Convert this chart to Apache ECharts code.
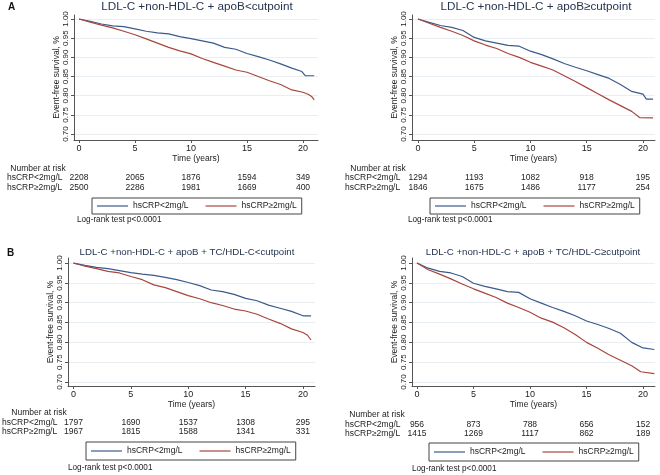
<!DOCTYPE html>
<html>
<head>
<meta charset="utf-8">
<script src="https://cdn.jsdelivr.net/npm/echarts@6/dist/echarts.min.js"></script>
<style>
html, body { margin: 0; padding: 0; background: #fff; }
#main { width: 660px; height: 475px; }
</style>
</head>
<body>
<div id="main"></div>
<script>
var FONT = '"Liberation Sans", Arial, Helvetica, sans-serif';
var BLUE = '#3b5a8c', RED = '#a8463d';

var lowName = 'hsCRP<2mg/L';
var highName = 'hsCRP≥2mg/L';
var xTicks = [0, 5, 10, 15, 20];
var yTicks = [0.70, 0.75, 0.80, 0.85, 0.90, 0.95, 1.00];
var riskTimes = [0, 5, 10, 15, 20];

var titles = [
	'LDL-C +non-HDL-C + apoB<cutpoint',
	'LDL-C +non-HDL-C + apoB≥cutpoint',
	'LDL-C +non-HDL-C + apoB + TC/HDL-C<cutpoint',
	'LDL-C +non-HDL-C + apoB + TC/HDL-C≥cutpoint'
];

// survival curves: [years, event-free survival]
var aLowCurve = [[0,1],[1,0.994],[2,0.987],[3,0.982],[4,0.980],[5,0.974],[6,0.968],[7,0.964],[8,0.961],[9,0.954],[10,0.949],[11,0.943],[12,0.937],[13,0.926],[14,0.921],[15,0.910],[16,0.902],[17,0.893],[18,0.883],[19,0.872],[19.9,0.863],[20.2,0.852],[21,0.852]];
var aHighCurve = [[0,1],[1,0.992],[2,0.984],[3,0.977],[4,0.968],[5,0.959],[6,0.948],[7,0.937],[8,0.926],[9,0.917],[10,0.909],[11,0.897],[12,0.887],[13,0.877],[14,0.867],[15,0.861],[16,0.850],[17,0.839],[18,0.829],[19,0.815],[20,0.809],[20.5,0.803],[20.8,0.797],[21,0.789]];
var a2LowCurve = [[0,1],[1,0.991],[2,0.983],[3,0.978],[4,0.970],[5,0.952],[6,0.943],[7,0.937],[8,0.931],[9,0.929],[10,0.916],[11,0.907],[12,0.896],[13,0.884],[14,0.874],[15,0.865],[16,0.855],[17,0.845],[18,0.829],[19,0.811],[20,0.804],[20.3,0.791],[20.9,0.791]];
var a2HighCurve = [[0,1],[1,0.989],[2,0.978],[3,0.968],[4,0.957],[5,0.943],[6,0.932],[7,0.923],[8,0.910],[9,0.900],[10,0.887],[11,0.877],[12,0.867],[13,0.852],[14,0.837],[15,0.821],[16,0.805],[17,0.789],[18,0.774],[19,0.759],[19.7,0.743],[20.9,0.742]];
var bLowCurve = [[0,1],[1,0.994],[2,0.989],[3,0.986],[4,0.981],[5,0.976],[6,0.972],[7,0.969],[8,0.964],[9,0.958],[10,0.951],[11,0.943],[12,0.932],[13,0.928],[14,0.921],[15,0.911],[16,0.905],[17,0.894],[18,0.886],[19,0.878],[20,0.867],[20.7,0.867]];
var bHighCurve = [[0,1],[1,0.992],[2,0.986],[3,0.979],[4,0.975],[5,0.966],[6,0.958],[7,0.945],[8,0.938],[9,0.928],[10,0.918],[11,0.910],[12,0.900],[13,0.893],[14,0.884],[15,0.879],[16,0.871],[17,0.859],[18,0.848],[19,0.834],[20,0.825],[20.4,0.818],[20.7,0.806]];
var b2LowCurve = [[0,1],[1,0.987],[2,0.979],[3,0.975],[4,0.966],[5,0.949],[6,0.941],[7,0.935],[8,0.928],[9,0.926],[10,0.910],[11,0.899],[12,0.888],[13,0.878],[14,0.867],[15,0.854],[16,0.845],[17,0.835],[18,0.823],[19,0.800],[20,0.786],[21,0.782]];
var b2HighCurve = [[0,1],[1,0.983],[2,0.972],[3,0.960],[4,0.947],[5,0.935],[6,0.924],[7,0.913],[8,0.899],[9,0.888],[10,0.876],[11,0.861],[12,0.851],[13,0.837],[14,0.820],[15,0.800],[16,0.785],[17,0.769],[18,0.755],[19,0.741],[19.8,0.726],[21,0.721]];

// number at risk at 0,5,10,15,20 years
var aLowRisk = [2208, 2065, 1876, 1594, 349];
var aHighRisk = [2500, 2286, 1981, 1669, 400];
var a2LowRisk = [1294, 1193, 1082, 918, 195];
var a2HighRisk = [1846, 1675, 1486, 1177, 254];
var bLowRisk = [1797, 1690, 1537, 1308, 295];
var bHighRisk = [1967, 1815, 1588, 1341, 331];
var b2LowRisk = [956, 873, 788, 656, 152];
var b2HighRisk = [1415, 1269, 1117, 862, 189];

// layout of the four panels (pixels)
var panels = [
	{ grid: {left: 74, top: 15, width: 244, height: 125}, x: [-0.45, 21.34], y: [0.6844, 1.0104],
	  low: aLowCurve, high: aHighCurve, lowRisk: aLowRisk, highRisk: aHighRisk,
	  titleX: 197, titleY: 7, titleSize: 11.7, nrX: 38, nrY: 169, rowX: 7, rowY: [178, 188],
	  legend: {left: 92, top: 198, pad: 3}, logX: 77, logY: 220, nameGap: 13, xNameGap: 12 },
	{ grid: {left: 412, top: 15, width: 243, height: 125}, x: [-0.53, 21.07], y: [0.6844, 1.0104],
	  low: a2LowCurve, high: a2HighCurve, lowRisk: a2LowRisk, highRisk: a2HighRisk,
	  titleX: 536, titleY: 7, titleSize: 11.7, nrX: 378, nrY: 169, rowX: 345, rowY: [178, 188],
	  legend: {left: 430, top: 198, pad: 3}, logX: 408, logY: 220, nameGap: 13, xNameGap: 12 },
	{ grid: {left: 68, top: 258, width: 247, height: 128}, x: [-0.48, 21.05], y: [0.690, 1.0127],
	  low: bLowCurve, high: bHighCurve, lowRisk: bLowRisk, highRisk: bHighRisk,
	  titleX: 187, titleY: 252, titleSize: 9.7, nrX: 39, nrY: 413, rowX: 2, rowY: [423, 432],
	  legend: {left: 86, top: 442, pad: 4}, logX: 68, logY: 468, nameGap: 11, xNameGap: 12 },
	{ grid: {left: 412, top: 258, width: 243, height: 128}, x: [-0.44, 21.06], y: [0.690, 1.0127],
	  low: b2LowCurve, high: b2HighCurve, lowRisk: b2LowRisk, highRisk: b2HighRisk,
	  titleX: 533, titleY: 252, titleSize: 9.7, nrX: 377, nrY: 415, rowX: 345, rowY: [425, 434],
	  legend: {left: 429, top: 443, pad: 4}, logX: 412, logY: 469, nameGap: 11, xNameGap: 13 }
];

var chart = echarts.init(document.getElementById('main'), null, {renderer: 'canvas'});

var grids = [], xAxes = [], yAxes = [], series = [], legends = [];
panels.forEach(function(p, i) {
	grids.push(p.grid);
	xAxes.push({
		type: 'value', gridIndex: i, min: p.x[0], max: p.x[1],
		name: 'Time (years)', nameLocation: 'middle', nameGap: p.xNameGap,
		nameTextStyle: {fontFamily: FONT, fontSize: 8.5, color: '#222'},
		axisLine: {show: true, onZero: false, lineStyle: {color: '#555', width: 1}},
		axisTick: {show: true, length: 3, customValues: xTicks, lineStyle: {color: '#555'}},
		axisLabel: {customValues: xTicks, margin: 4, fontFamily: FONT, fontSize: 9, color: '#222'},
		splitLine: {show: false}
	});
	yAxes.push({
		type: 'value', gridIndex: i, min: p.y[0], max: p.y[1],
		name: 'Event-free survival, %', nameLocation: 'middle', nameGap: p.nameGap,
		nameTextStyle: {fontFamily: FONT, fontSize: 8.5, color: '#222'},
		axisLine: {show: true, onZero: false, lineStyle: {color: '#555', width: 1}},
		axisTick: {show: true, length: 3, customValues: yTicks, lineStyle: {color: '#555'}},
		axisLabel: {customValues: yTicks, rotate: 90, margin: 4, fontFamily: FONT, fontSize: 8, color: '#222',
			formatter: function(v) { return v.toFixed(2); }},
		splitLine: {show: true, lineStyle: {color: '#e9eef3', width: 1}}
	});
	series.push({
		name: lowName, type: 'line', xAxisIndex: i, yAxisIndex: i, data: p.low,
		symbol: 'none', lineStyle: {color: BLUE, width: 1.2}, itemStyle: {color: BLUE}
	});
	series.push({
		name: highName, type: 'line', xAxisIndex: i, yAxisIndex: i, data: p.high,
		symbol: 'none', lineStyle: {color: RED, width: 1.2}, itemStyle: {color: RED}
	});
	legends.push({
		left: p.legend.left, top: p.legend.top, orient: 'horizontal',
		data: [lowName, highName],
		icon: 'rect', itemWidth: 31, itemHeight: 1.2, itemGap: 17,
		padding: [p.legend.pad, 5], borderColor: '#444', borderWidth: 1,
		selectedMode: false,
		textStyle: {fontFamily: FONT, fontSize: 8.5, color: '#222', lineHeight: 10}
	});
});

chart.setOption({
	animation: false,
	backgroundColor: '#fff',
	grid: grids,
	xAxis: xAxes,
	yAxis: yAxes,
	legend: legends,
	series: series
});

function txt(x, y, s, size, align, color, weight) {
	return {
		type: 'text', x: x, y: y, silent: true,
		style: {
			text: String(s), fontFamily: FONT, fontSize: size, fontWeight: weight || 'normal',
			fill: color || '#222', textAlign: align, textVerticalAlign: 'middle',
			align: align, verticalAlign: 'middle'
		}
	};
}

var texts = [];
texts.push(txt(8, 7, 'A', 10, 'left', '#111', 'bold'));
texts.push(txt(7, 253, 'B', 10, 'left', '#111', 'bold'));
panels.forEach(function(p, i) {
	texts.push(txt(p.titleX, p.titleY, titles[i], p.titleSize, 'center', '#26344f'));
	texts.push(txt(p.nrX, p.nrY, 'Number at risk', 8.5, 'center'));
	texts.push(txt(p.rowX, p.rowY[0], lowName, 8.5, 'left'));
	texts.push(txt(p.rowX, p.rowY[1], highName, 8.5, 'left'));
	riskTimes.forEach(function(t, k) {
		var px = chart.convertToPixel({xAxisIndex: i}, t);
		texts.push(txt(px, p.rowY[0], p.lowRisk[k], 8.5, 'center'));
		texts.push(txt(px, p.rowY[1], p.highRisk[k], 8.5, 'center'));
	});
	texts.push(txt(p.logX, p.logY, 'Log-rank test p<0.0001', 8.2, 'left'));
});

chart.setOption({graphic: {elements: texts}});
</script>
</body>
</html>
